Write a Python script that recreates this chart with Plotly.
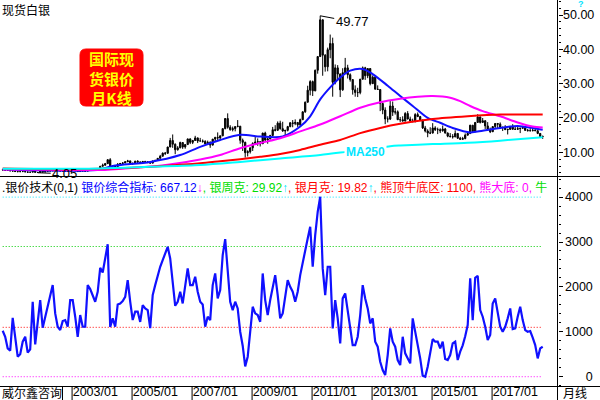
import plotly.graph_objects as go

W, H = 600, 400

# ---------------- data ----------------
months = []
yr, mo = 2000, 9
for _ in range(217):
    months.append(f"{yr}/{mo:02d}")
    mo += 1
    if mo > 12:
        mo, yr = 1, yr + 1
idx = list(range(len(months)))

close = [4.86, 4.75, 4.70, 4.59,
         4.53, 4.40, 4.35, 4.38, 4.40, 4.30, 4.20, 4.22, 4.65, 4.15, 4.13, 4.58,
         4.24, 4.47, 4.57, 4.57, 4.98, 4.93, 4.65, 4.55, 4.55, 4.43, 4.50, 4.77,
         4.85, 4.62, 4.40, 4.62, 4.55, 4.52, 5.08, 5.00, 5.13, 5.00, 5.28, 5.95,
         6.25, 6.70, 7.85, 6.05, 6.10, 5.85, 6.55, 6.75, 6.90, 7.25, 7.50, 6.80,
         6.75, 7.40, 7.15, 6.95, 7.35, 7.10, 7.20, 6.85, 7.50, 7.65, 8.25, 8.85,
         9.75, 9.70, 11.55, 13.45, 12.35, 10.75, 11.30, 12.85, 11.55, 12.25, 13.90, 12.90,
         13.45, 14.20, 13.30, 13.30, 13.20, 12.45, 12.90, 12.10, 13.85, 14.35, 14.20, 14.80,
         16.90, 19.85, 17.30, 16.60, 16.90, 17.50, 17.60, 13.50, 12.90, 9.90, 10.20, 11.30,
         12.60, 13.00, 13.10, 12.50, 15.60, 13.60, 13.90, 14.90, 16.60, 16.40, 18.50, 16.90,
         16.20, 16.40, 17.50, 18.60, 18.40, 18.70, 18.00, 19.50, 21.80, 24.60, 28.10, 30.60,
         27.90, 33.90, 37.90, 48.60, 38.30, 34.90, 39.90, 41.70, 30.40, 34.60, 32.80, 28.20,
         33.20, 34.60, 32.60, 31.20, 28.20, 27.40, 27.40, 31.30, 34.60, 32.30, 34.40, 30.00,
         31.90, 28.40, 28.30, 24.20, 22.30, 19.70, 19.70, 23.50, 21.70, 21.80, 19.50, 19.50,
         19.10, 21.30, 19.70, 19.10, 19.00, 21.00, 20.40, 19.40, 17.10, 16.20, 15.60, 15.60,
         17.10, 16.60, 16.60, 16.30, 16.80, 15.60, 14.70, 14.60, 14.50, 15.50, 14.10, 13.80,
         14.00, 15.00, 15.50, 17.90, 16.10, 18.70, 20.30, 18.70, 19.20, 17.70, 16.50, 16.00,
         17.50, 18.40, 18.20, 17.20, 17.30, 16.60, 16.70, 17.50, 16.70, 16.70, 16.90, 17.00,
         17.20, 16.40, 16.30, 16.30, 16.40, 16.30, 15.50, 14.60, 14.60]

high = [5.00, 4.95, 4.80, 4.72,
        4.80, 4.60, 4.45, 4.45, 4.55, 4.48, 4.32, 4.25, 4.75, 4.70, 4.20, 4.65,
        4.63, 4.55, 4.70, 4.65, 5.10, 5.05, 5.10, 4.70, 4.65, 4.60, 4.55, 4.80,
        5.00, 4.90, 4.70, 4.70, 4.80, 4.60, 5.15, 5.20, 5.30, 5.20, 5.40, 5.97,
        6.70, 6.90, 7.95, 8.30, 6.30, 6.25, 6.85, 6.90, 7.10, 7.35, 7.80, 7.60,
        7.00, 7.55, 7.70, 7.40, 7.40, 7.50, 7.35, 7.25, 7.55, 7.80, 8.30, 9.25,
        9.95, 10.10, 11.60, 14.20, 15.20, 12.60, 11.80, 13.10, 12.95, 12.40, 14.00, 14.10,
        13.60, 14.80, 14.30, 14.20, 13.75, 13.50, 13.40, 13.20, 13.90, 14.50, 15.80, 14.90,
        17.00, 19.90, 21.35, 17.90, 17.50, 17.50, 19.40, 17.70, 14.00, 13.10, 10.60, 11.40,
        12.90, 14.60, 14.05, 13.30, 15.70, 16.00, 14.20, 15.10, 17.40, 17.90, 19.00, 19.20,
        18.90, 16.50, 17.70, 18.80, 19.40, 19.60, 18.80, 19.80, 21.90, 24.80, 29.40, 31.00,
        30.90, 34.10, 38.00, 49.77, 48.70, 38.60, 40.50, 44.30, 43.40, 35.60, 35.40, 33.00,
        34.50, 37.50, 35.50, 33.00, 31.20, 29.50, 28.80, 31.40, 35.00, 34.90, 34.50, 34.50,
        32.40, 32.40, 29.50, 28.30, 24.50, 23.10, 20.50, 25.10, 24.80, 22.90, 22.20, 20.30,
        20.50, 21.70, 22.00, 20.40, 19.80, 21.40, 21.60, 20.60, 19.50, 17.70, 16.70, 17.30,
        18.50, 17.60, 17.20, 17.00, 17.80, 17.10, 15.80, 15.60, 15.30, 16.40, 15.60, 14.50,
        14.50, 15.50, 15.90, 18.00, 17.90, 18.80, 21.10, 20.40, 20.00, 19.30, 18.80, 17.20,
        17.60, 18.50, 18.50, 18.70, 17.40, 17.90, 16.80, 17.70, 18.20, 17.50, 17.40, 17.10,
        17.70, 17.30, 16.80, 17.40, 16.90, 17.30, 16.40, 15.60, 14.90]

low = [4.80, 4.70, 4.60, 4.55,
       4.50, 4.35, 4.26, 4.30, 4.30, 4.25, 4.10, 4.10, 4.18, 4.15, 4.05, 4.10,
       4.20, 4.20, 4.40, 4.50, 4.55, 4.80, 4.60, 4.50, 4.45, 4.40, 4.40, 4.50,
       4.75, 4.55, 4.35, 4.38, 4.50, 4.45, 4.50, 4.95, 4.95, 4.80, 4.95, 5.25,
       5.80, 6.10, 6.60, 5.90, 5.50, 5.70, 5.80, 6.40, 6.40, 6.85, 7.15, 6.40,
       6.35, 6.60, 7.00, 6.80, 6.90, 6.95, 6.85, 6.70, 6.85, 7.40, 7.50, 8.20,
       8.80, 9.20, 9.65, 11.50, 11.30, 9.45, 10.50, 11.20, 11.00, 11.05, 12.20, 12.40,
       12.40, 13.30, 12.70, 13.20, 12.80, 12.40, 12.40, 11.30, 12.00, 13.20, 13.50, 13.60,
       14.70, 16.70, 16.90, 16.30, 16.10, 16.10, 17.30, 12.50, 10.40, 8.45, 8.80, 9.65,
       10.40, 12.50, 11.90, 11.70, 12.40, 13.30, 12.50, 13.80, 14.80, 16.10, 16.30, 16.60,
       16.00, 14.70, 16.10, 17.30, 17.30, 17.90, 17.40, 17.60, 19.40, 21.50, 24.50, 26.60,
       26.40, 27.80, 32.90, 37.80, 32.30, 33.50, 33.60, 37.40, 26.20, 29.80, 30.90, 26.10,
       27.90, 33.00, 31.50, 30.60, 26.80, 26.20, 26.10, 26.90, 31.20, 31.10, 31.60, 29.50,
       29.90, 28.30, 28.20, 22.00, 21.10, 18.20, 18.70, 19.40, 20.60, 21.00, 19.40, 18.80,
       19.00, 19.00, 19.60, 18.90, 18.70, 18.70, 20.30, 19.30, 16.80, 15.80, 14.40, 15.30,
       15.50, 16.20, 15.30, 15.60, 16.00, 15.50, 14.40, 14.30, 14.00, 14.40, 13.90, 13.60,
       13.60, 13.80, 14.90, 15.30, 15.80, 15.80, 18.60, 18.40, 18.70, 16.80, 16.40, 15.60,
       15.90, 17.10, 16.80, 17.20, 16.20, 16.60, 15.20, 16.50, 16.70, 16.50, 16.50, 15.60,
       16.90, 16.20, 16.10, 16.10, 16.10, 16.20, 15.30, 14.40, 13.90]

first_open = 4.93
open_ = [first_open] + close[:-1]   # monthly open = previous month's close

# 银价综合指标 (lower panel)
indicator = [1024, 890, 630, 580, 1310, 850, 445, 500, 780, 890, 535,
             610, 1670, 720, 1300, 1707, 1090, 1335, 1558, 1818, 2040, 1410, 1113, 1039, 1239,
             1261, 1113, 1707, 1707, 1336, 890, 1373, 1113, 1113, 2040, 1951, 1818, 1670, 1892,
             2426, 2322, 2634, 2950, 1110, 1300, 1113, 1610, 1632, 1684, 1780, 2150, 1670, 1262,
             1450, 1450, 1220, 1595, 1520, 1484,
             1080, 1818, 2040, 2263, 2449, 2597, 2745, 2894, 2634, 2040, 1580, 1670, 1892, 1632,
             2040, 2412, 2040, 2040, 2226, 1892, 1670, 1610, 1113, 1336, 1261, 2040, 2300, 1744,
             1929, 2708, 3064, 2337, 1670, 1484, 1670, 1521, 1002, 690, 230, 445, 1002, 1558,
             1410, 1373, 1224, 2300, 1707, 1373, 1707, 2003,
             2263, 1818, 1300, 1410, 1780, 2150, 2003, 1892, 1670, 1892, 2263, 2560, 2857, 3079,
             3339, 2449, 3153, 3673, 4007, 2412, 1818, 2449, 2449, 1076, 1707, 1300, 742, 1744,
             1855, 1447, 1002, 705, 705, 890, 1373, 2040, 1744, 1521, 1187, 1300, 780, 668, 334,
             148, 37, 482, 1076, 780, 668,
             371, 260, 890, 520, 393, 297, 1300, 1002, 780, 408, 22, 0, 223, 557, 838, 780, 780,
             631, 780, 393, 371, 482, 742, 780, 371, 557, 700, 900, 1150, 2190, 1261, 2204, 2248,
             1484, 1336, 1113, 816, 928, 1632, 1744, 1447, 1113, 1002, 1113, 1300, 1521, 1061,
             1076, 1336,
             1558, 1261, 1039, 1002, 1017, 868, 705, 408, 631, 667]

# moving-average lines (month index, value)
ma_blue_k = [0, 15, 31, 39, 44, 59, 71, 79, 87, 95, 103, 112, 119, 123, 127, 131, 135, 139,
             144, 148, 154, 159, 164, 170, 175, 180, 187, 192, 199, 206, 212, 216]
ma_blue_v = [5.1, 4.75, 4.65, 5.0, 6.0, 7.2, 9.2, 11.6, 13.6, 15.1, 14.6, 14.6, 17.5, 20.5,
             25.4, 28.9, 31.8, 33.8, 34.3, 32.8, 29.4, 26.4, 23.5, 20.0, 18.6, 17.1, 15.8,
             16.3, 17.1, 17.7, 17.1, 16.6]
ma_mag_k = [0, 19, 39, 54, 62, 79, 87, 95, 103, 111, 119, 127, 135, 143, 151, 159, 166, 172,
            179, 183, 187, 192, 199, 206, 212, 216]
ma_mag_v = [5.0, 4.9, 4.85, 5.6, 6.0, 7.9, 9.2, 11.2, 12.7, 14.1, 16.1, 18.1, 20.5, 23.0,
            24.6, 25.6, 26.2, 26.4, 25.9, 24.9, 23.5, 22.0, 20.5, 18.7, 17.5, 17.2]
ma_red_k = [0, 29, 49, 64, 79, 87, 95, 103, 111, 119, 127, 135, 143, 151, 159, 172, 186, 199, 216]
ma_red_v = [5.3, 5.1, 5.4, 6.0, 6.8, 7.4, 8.0, 8.7, 9.5, 10.7, 12.2, 13.6, 15.6, 17.1, 18.3,
            19.7, 20.5, 21.0, 21.0]
ma250_k = [0, 39, 59, 79, 95, 111, 127, 138, 155, 159, 172, 186, 199, 216]
ma250_v = [5.2, 5.3, 5.8, 6.3, 7.2, 8.2, 9.2, 10.2, 11.8, 12.0, 12.4, 12.8, 13.4, 14.4]

level_values = [4000, 2900, 1100, 0]
level_colors = ["#00e5ff", "#00cc00", "#ff0000", "#ff00ff"]

tick_months = ["2003/01", "2005/01", "2007/01", "2009/01", "2011/01", "2013/01", "2015/01", "2017/01"]
tick_idx = [months.index(t) for t in tick_months]

price_ticks = [10, 20, 30, 40, 50]
ind_ticks = [0, 1000, 2000, 3000, 4000]
ind_tick_text = ["\u2007\u2007\u20070", "1000", "2000", "3000", "4000"]

peak_i = high.index(max(high))
low_i = low.index(min(low))

# ---------------- figure ----------------
AX = 557.5  # right axis pixel
fig = go.Figure()

fig.add_trace(go.Candlestick(
    x=idx, open=open_, high=high, low=low, close=close,
    increasing=dict(line=dict(color="black", width=1), fillcolor="black"),
    decreasing=dict(line=dict(color="black", width=1), fillcolor="black"),
    whiskerwidth=0, xaxis="x", yaxis="y", hoverinfo="skip"))

for ks, vs, col in [(ma_blue_k, ma_blue_v, "#1010ff"), (ma_mag_k, ma_mag_v, "#ff00ff"),
                    (ma_red_k, ma_red_v, "#ff0000"), (ma250_k, ma250_v, "#00ffff")]:
    fig.add_trace(go.Scatter(x=ks, y=vs, mode="lines", xaxis="x", yaxis="y",
                             line=dict(color=col, width=2, shape="spline", smoothing=0.8),
                             hoverinfo="skip"))

for lv, col in zip(level_values, level_colors):
    fig.add_trace(go.Scatter(x=[idx[0], idx[-1]], y=[lv, lv], mode="lines", xaxis="x2", yaxis="y2",
                             line=dict(color=col, width=1, dash="1px,2px"), hoverinfo="skip"))

fig.add_trace(go.Scatter(x=idx, y=indicator, mode="lines", xaxis="x2", yaxis="y2",
                         line=dict(color="#1010ff", width=2.2), hoverinfo="skip"))

xr = [-2.7 / 2.5, (AX - 2.7) / 2.5]
xdom = [0, AX / W]
font_main = "Liberation Sans, Arial, Noto Sans CJK SC, sans-serif"
cjk = "Noto Sans CJK SC, sans-serif"

fig.update_layout(
    template="none",
    width=W, height=H, margin=dict(l=0, r=0, t=0, b=0, pad=0, autoexpand=False),
    paper_bgcolor="white", plot_bgcolor="white", showlegend=False,
    font=dict(family=font_main, size=13, color="black"),
    xaxis=dict(domain=xdom, anchor="y", range=xr, showticklabels=False, ticks="",
               showgrid=False, zeroline=False, showline=False, automargin=False,
               rangeslider=dict(visible=False), matches="x2"),
    xaxis2=dict(domain=xdom, anchor="y2", range=xr, tickvals=tick_idx, ticktext=tick_months,
                ticks="", ticklabelposition="outside right", showgrid=False, zeroline=False,
                showline=False, automargin=False, ticklabelstandoff=-4,
                tickfont=dict(size=12.5, family=font_main, color="black")),
    yaxis=dict(domain=[1 - 176 / H, 1], anchor="x", side="right", range=[3.1, 54.37],
               tickvals=price_ticks, tickformat=".2f", ticks="outside", ticklen=4,
               tickcolor="black", showgrid=False, zeroline=False, showline=False,
               automargin=False, ticklabelstandoff=-2, tickfont=dict(size=12.5),
               minor=dict(ticks="outside", ticklen=2, dtick=2, tickcolor="black", showgrid=False)),
    yaxis2=dict(domain=[1 - 386 / H, 1 - 177 / H], anchor="x2", side="right",
                range=[-207, 4448], tickvals=ind_ticks, ticktext=ind_tick_text,
                ticks="outside", ticklen=4, tickcolor="black", showgrid=False,
                zeroline=False, showline=False, automargin=False, tickfont=dict(size=12.5),
                minor=dict(ticks="outside", ticklen=2, dtick=200, tickcolor="black", showgrid=False)),
)

def px(x):
    return x / W

def py(y):
    return 1 - y / H

shapes = [
    dict(type="line", xref="paper", yref="paper", x0=px(AX), x1=px(AX), y0=0, y1=1,
         line=dict(color="black", width=1)),
    dict(type="line", xref="paper", yref="paper", x0=0, x1=1, y0=py(176.5), y1=py(176.5),
         line=dict(color="black", width=1)),
    dict(type="line", xref="paper", yref="paper", x0=0, x1=1, y0=py(386.5), y1=py(386.5),
         line=dict(color="black", width=1)),
    dict(type="line", xref="paper", yref="paper", x0=px(62.5), x1=px(62.5), y0=0, y1=py(386.5),
         line=dict(color="black", width=1)),
]
for t in tick_idx:
    shapes.append(dict(type="line", xref="x2", yref="paper", x0=t - 0.25, x1=t - 0.25,
                       y0=0, y1=py(386.5), line=dict(color="black", width=1)))

# rounded red box
x0, x1, y0, y1, r = 80, 143, 49, 106, 6
path = (f"M {px(x0 + r)},{py(y0)} L {px(x1 - r)},{py(y0)} Q {px(x1)},{py(y0)} {px(x1)},{py(y0 + r)} "
        f"L {px(x1)},{py(y1 - r)} Q {px(x1)},{py(y1)} {px(x1 - r)},{py(y1)} "
        f"L {px(x0 + r)},{py(y1)} Q {px(x0)},{py(y1)} {px(x0)},{py(y1 - r)} "
        f"L {px(x0)},{py(y0 + r)} Q {px(x0)},{py(y0)} {px(x0 + r)},{py(y0)} Z")
shapes.append(dict(type="path", xref="paper", yref="paper", path=path,
                   fillcolor="#ff0000", line=dict(color="#ff0000", width=1)))
fig.update_layout(shapes=shapes)

ann = []
ann.append(dict(xref="paper", yref="paper", x=px(1), y=py(0), xanchor="left", yanchor="top",
                text="现货白银", showarrow=False, borderpad=0,
                font=dict(family=cjk, size=12, color="black")))
ann.append(dict(xref="paper", yref="paper", x=px(111.5), y=py(78), xanchor="center",
                yanchor="middle", text="<b>国际现<br>货银价<br>月K线</b>", showarrow=False,
                borderpad=0, font=dict(family=cjk, size=15, color="#ffff00")))
ann.append(dict(xref="x", yref="y", x=peak_i, y=high[peak_i], text=f"{high[peak_i]:.2f}",
                showarrow=True, arrowhead=0, arrowwidth=1, arrowcolor="black",
                ax=32, ay=6, font=dict(size=13, color="black")))
ann.append(dict(xref="x", yref="y", x=low_i, y=low[low_i], text=f"{low[low_i]:.2f}",
                showarrow=True, arrowhead=0, arrowwidth=1, arrowcolor="black",
                ax=27, ay=1, font=dict(size=13, color="black")))
ann.append(dict(xref="x", yref="y", x=145.3, y=10.1, text="<b>MA250</b>", showarrow=False,
                bgcolor="white", borderpad=1, font=dict(size=12, color="#00e5ff")))
ann.append(dict(xref="paper", yref="paper", x=px(581), y=py(-2), xanchor="center", yanchor="top",
                text="<b>?</b>", showarrow=False, borderpad=0,
                font=dict(size=9, color="#00e5ff")))
header = ('<span style="color:black">.银价技术(0,1)</span> '
          '<span style="color:#0000ff">银价综合指标: 667.12</span>'
          '<span style="color:#ff00ff">↓</span>'
          '<span style="color:#00dd00">, 银周克: 29.92</span>'
          '<span style="color:#00e5ff">↑</span>'
          '<span style="color:#ff0000">, 银月克: 19.82</span>'
          '<span style="color:#00e5ff">↑</span>'
          '<span style="color:#ff0000">, 熊顶牛底区: 1100,</span>'
          '<span style="color:#ff00ff"> 熊大底: 0,</span>'
          '<span style="color:#00dd00"> 牛</span>')
ann.append(dict(xref="paper", yref="paper", x=0, y=py(187), xanchor="left", yanchor="middle",
                text=header, showarrow=False, font=dict(family=font_main, size=12)))
ann.append(dict(xref="paper", yref="paper", x=px(1), y=0, xanchor="left", yanchor="bottom",
                text="威尔鑫咨询", showarrow=False, borderpad=0, height=13,
                font=dict(family=cjk, size=12, color="black")))
ann.append(dict(xref="paper", yref="paper", x=px(562), y=0, xanchor="left", yanchor="bottom",
                text="月线", showarrow=False, borderpad=0, height=13,
                font=dict(family=cjk, size=12, color="black")))
fig.update_layout(annotations=ann)

fig.write_html("out.html", config={"displayModeBar": False},
               post_script="document.body.style.margin='0';document.body.style.padding='0';"
                           "document.documentElement.style.overflow='hidden';")
